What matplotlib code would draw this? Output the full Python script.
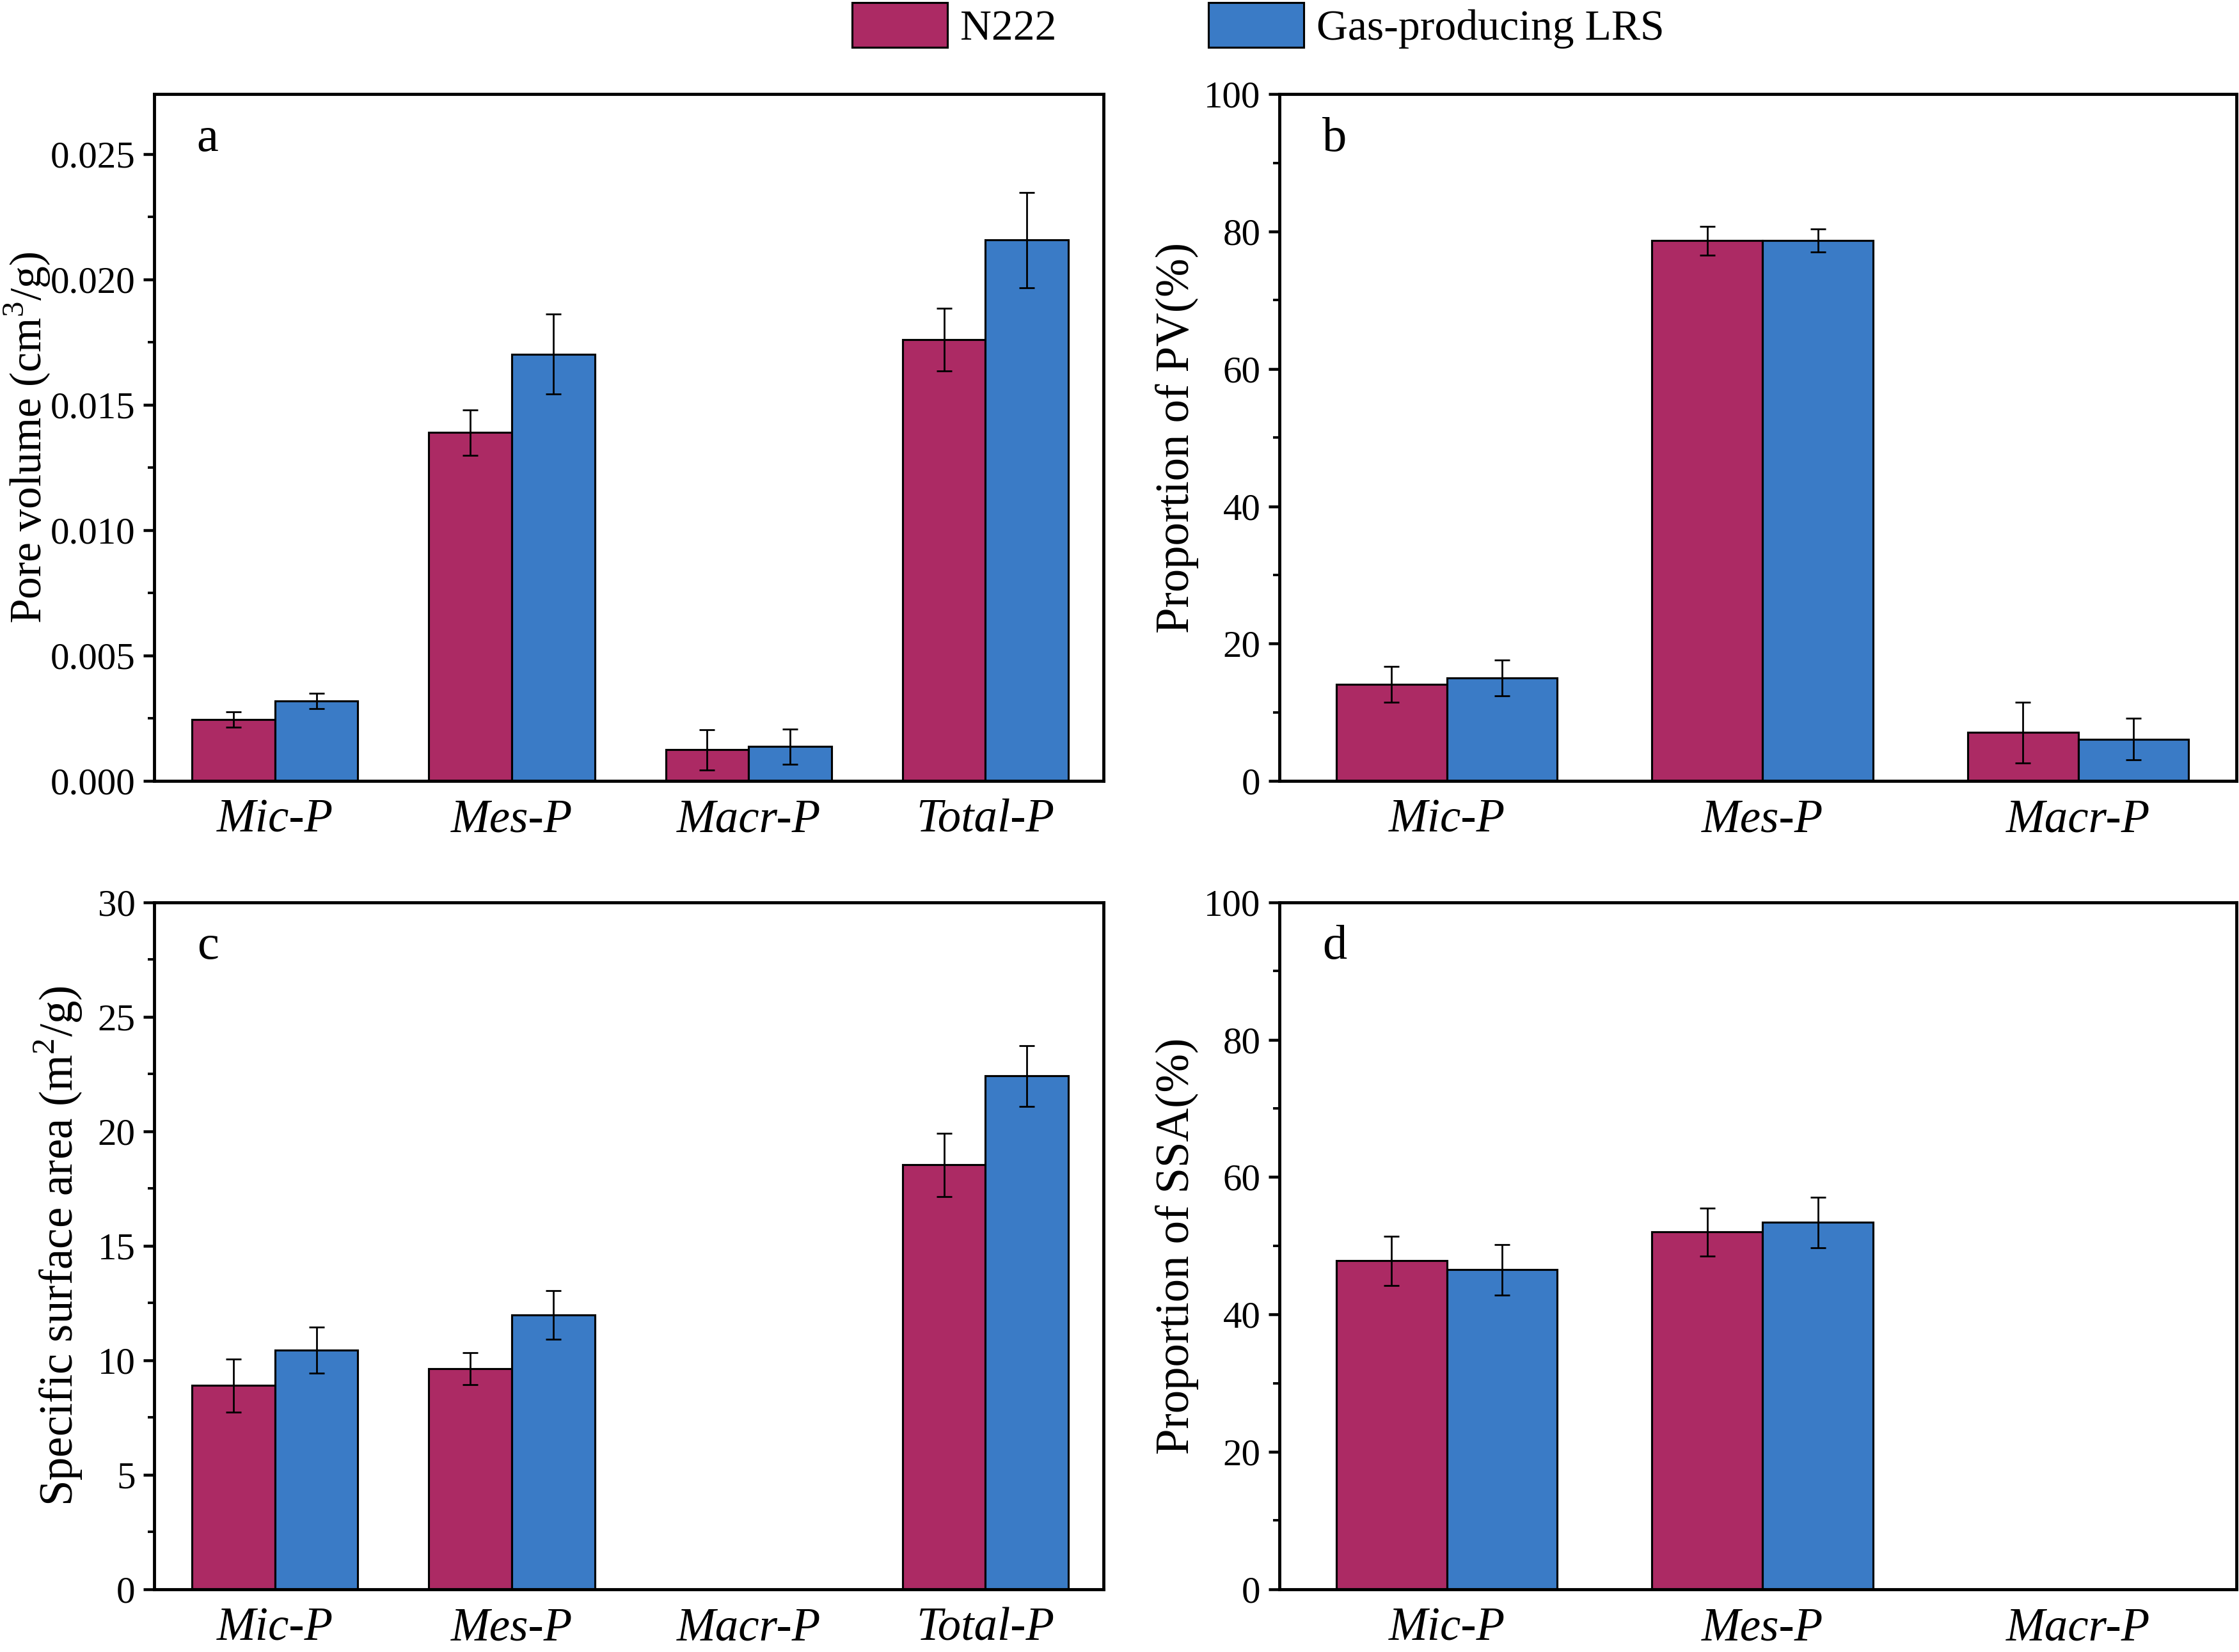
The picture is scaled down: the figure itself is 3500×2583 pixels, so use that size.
import matplotlib
matplotlib.use("Agg")
import matplotlib.pyplot as plt
from matplotlib.ticker import MultipleLocator, FormatStrFormatter
import numpy as np

plt.rcParams['font.family'] = ['Liberation Serif', 'DejaVu Serif']
plt.rcParams['mathtext.fontset'] = 'custom'
plt.rcParams['mathtext.rm'] = 'Liberation Serif'

series = ['N222', 'Gas-producing LRS']
colors = ['#AC2A64', '#3A7BC6']

cats4 = ['Mic-P', 'Mes-P', 'Macr-P', 'Total-P']
cats3 = ['Mic-P', 'Mes-P', 'Macr-P']

# a: pore volume (cm3/g)
pv_n222 = [0.00245, 0.0139, 0.00125, 0.0176]
pv_n222_err = [0.0003, 0.0009, 0.0008, 0.00125]
pv_lrs = [0.00319, 0.01703, 0.00137, 0.02158]
pv_lrs_err = [0.0003, 0.0016, 0.0007, 0.0019]

# b: proportion of PV (%)
ppv_n222 = [14.1, 78.7, 7.05]
ppv_n222_err = [2.6, 2.1, 4.4]
ppv_lrs = [15.0, 78.7, 6.1]
ppv_lrs_err = [2.6, 1.7, 3.0]

# c: specific surface area (m2/g), no macropore data
ssa_n222 = [8.9, 9.63, np.nan, 18.54]
ssa_n222_err = [1.16, 0.7, np.nan, 1.38]
ssa_lrs = [10.44, 11.98, np.nan, 22.42]
ssa_lrs_err = [1.0, 1.07, np.nan, 1.33]

# d: proportion of SSA (%)
pssa_n222 = [47.8, 52.0, np.nan]
pssa_n222_err = [3.56, 3.5, np.nan]
pssa_lrs = [46.5, 53.4, np.nan]
pssa_lrs_err = [3.7, 3.7, np.nan]

fig = plt.figure(figsize=(14, 10.332), dpi=250)

W = 1568.0
H = 1157.0
def rect(l, r, t, b):
    return [l / W, 1 - b / H, (r - l) / W, (b - t) / H]

panels = [
    dict(pos=rect(108, 773, 66, 547), cats=cats4, v1=pv_n222, e1=pv_n222_err, v2=pv_lrs, e2=pv_lrs_err,
         ylim=(0, 0.0274), major=0.005, minor=0.0025, ylabel='Pore volume (cm$^3$/g)', tag='a',
         xlim=(-0.51, 3.5), fmt='%.3f', lx=-0.107, lsize=20),
    dict(pos=rect(896, 1566, 66, 547), cats=cats3, v1=ppv_n222, e1=ppv_n222_err, v2=ppv_lrs, e2=ppv_lrs_err,
         ylim=(0, 100), major=20, minor=10, ylabel='Proportion of PV(%)', tag='b',
         xlim=(-0.53, 2.5), fmt='%d', lx=-0.084, lsize=21),
    dict(pos=rect(108, 773, 632, 1113), cats=cats4, v1=ssa_n222, e1=ssa_n222_err, v2=ssa_lrs, e2=ssa_lrs_err,
         ylim=(0, 30), major=5, minor=2.5, ylabel='Specific surface area (m$^2$/g)', tag='c',
         xlim=(-0.51, 3.5), fmt='%d', lx=-0.074, lsize=21),
    dict(pos=rect(896, 1566, 632, 1113), cats=cats3, v1=pssa_n222, e1=pssa_n222_err, v2=pssa_lrs, e2=pssa_lrs_err,
         ylim=(0, 100), major=20, minor=10, ylabel='Proportion of SSA(%)', tag='d',
         xlim=(-0.53, 2.5), fmt='%d', lx=-0.084, lsize=21),
]

width = 0.35
handles = []
for p in panels:
    ax = fig.add_axes(p['pos'])
    x = np.arange(len(p['cats']))
    ekw = dict(elinewidth=0.8, capthick=0.8, ecolor='black')
    b1 = ax.bar(x - width / 2, p['v1'], width, yerr=p['e1'], color=colors[0], edgecolor='black',
                linewidth=0.9, capsize=3.5, error_kw=ekw, label=series[0])
    b2 = ax.bar(x + width / 2, p['v2'], width, yerr=p['e2'], color=colors[1], edgecolor='black',
                linewidth=0.9, capsize=3.5, error_kw=ekw, label=series[1])
    if not handles:
        handles = [b1, b2]
    ax.set_xlim(p['xlim'])
    ax.set_ylim(p['ylim'])
    ax.yaxis.set_major_locator(MultipleLocator(p['major']))
    ax.yaxis.set_minor_locator(MultipleLocator(p['minor']))
    ax.yaxis.set_major_formatter(FormatStrFormatter(p['fmt']))
    ax.set_xticks(x)
    ax.set_xticklabels(p['cats'], family='Liberation Serif', fontstyle='italic', fontsize=21)
    ax.tick_params(axis='x', length=0, pad=8)
    ax.tick_params(axis='y', which='major', direction='out', length=5, width=1.3, labelsize=17)
    ax.tick_params(axis='y', which='minor', direction='out', length=2.8, width=1.1)
    for s in ax.spines.values():
        s.set_linewidth(1.4)
    ax.set_ylabel(p['ylabel'], fontsize=p['lsize'])
    ax.yaxis.set_label_coords(p['lx'], 0.5)
    ax.text(0.045, 0.935, p['tag'], transform=ax.transAxes, fontsize=22, va='center', ha='left')

fig.legend(handles, series, loc='upper center', bbox_to_anchor=(0.562, 1.022), ncol=2, frameon=False,
           fontsize=19.5, handlelength=2.2, handleheight=1.2, columnspacing=3.5, handletextpad=0.3)

fig.savefig('out.png', dpi=250)
